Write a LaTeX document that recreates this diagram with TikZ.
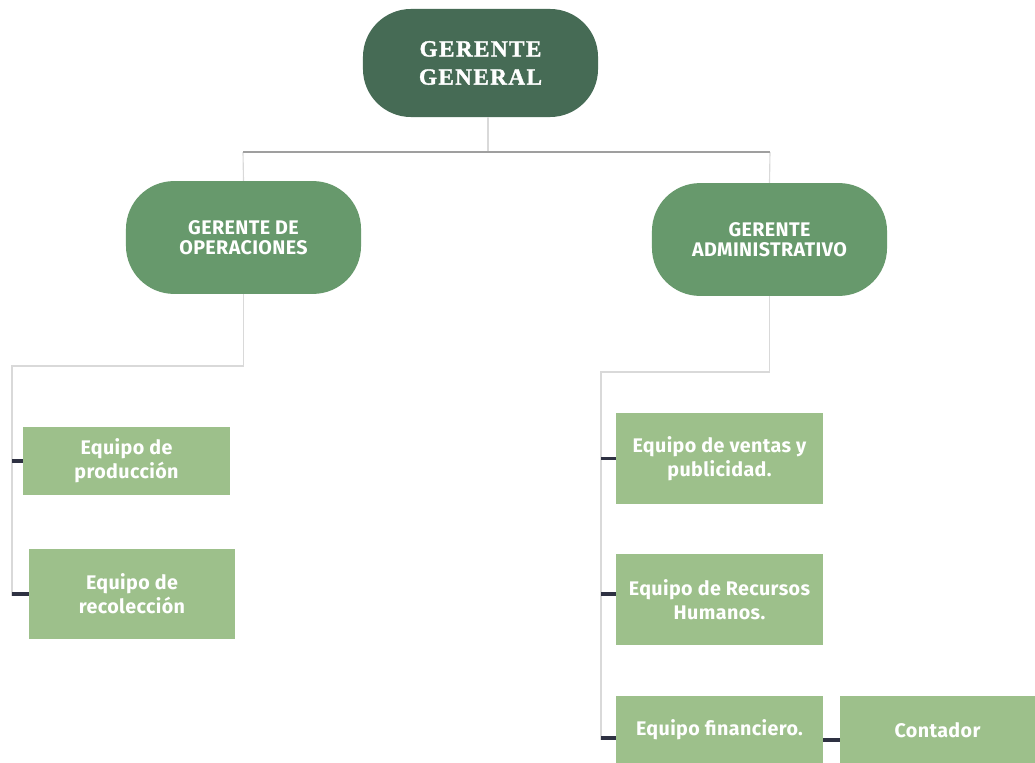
\documentclass[tikz,border=0pt]{standalone}
\usepackage{fontspec}
\setsansfont{Fira Sans}[LetterSpace=2]
\newfontfamily\titlefont{Liberation Serif}[LetterSpace=6, FakeBold=1.5]
\usetikzlibrary{positioning}
\definecolor{darkgreen}{HTML}{466B55}
\definecolor{midgreen}{HTML}{67996C}
\definecolor{lightgreen}{HTML}{9DC08B}
\definecolor{tickcol}{HTML}{2E3142}
\tikzset{
	boss/.style={fill=darkgreen, rounded corners=1.2cm, minimum width=5.875cm, minimum height=2.7cm, text=white, align=center, font=\titlefont\bfseries\fontsize{16.5}{20}\selectfont},
	manager/.style={fill=midgreen, rounded corners=1.2cm, minimum width=5.875cm, minimum height=2.82cm, text=white, align=center, font=\sffamily\bfseries\fontsize{14}{14.5}\selectfont},
	team/.style={fill=lightgreen, minimum width=5.175cm, minimum height=2.27cm, text=white, align=center, font=\sffamily\bfseries\fontsize{14}{17}\selectfont},
	bus/.style={draw=gray!75, line width=1.3pt},
	feed/.style={draw=gray!30, line width=0.8pt},
	branchtick/.style={draw=tickcol, line width=2.2pt},
}
\begin{document}
\begin{tikzpicture}[x=0.025cm, y=-0.025cm]
	\clip (0,0) rectangle (1035,763);
	\fill[white] (0,0) rectangle (1035,763);
	%
	\node[boss] (gg) at (480.5,63) {GERENTE\\GENERAL};
	\node[manager] (ops) at (243.5,237.5) {GERENTE DE\\OPERACIONES};
	\node[manager] (adm) at (769.5,239.5) {GERENTE\\ADMINISTRATIVO};
	
	% operaciones
	\node[team, minimum height=1.7cm] (prod) at (126.5,461) {Equipo de\\producción};
	\node[team, minimum width=5.15cm, minimum height=2.25cm] (recol) at (132,594) {Equipo de\\recolección};
	% administracion
	\node[team] (ventas) at (719.5,458.5) {Equipo de ventas y\\publicidad.};
	\node[team] (rh) at (719.5,599.5) {Equipo de Recursos\\Humanos.};
	\node[team, minimum height=1.7cm] (fin) at (719.5,730) {Equipo financiero.};
	\node[team, minimum width=4.875cm, minimum height=1.7cm] (cont) at (937.5,730) {Contador};
	
	% bus
	\coordinate (busL) at (243,152);
	\coordinate (busR) at (770,152);
	\draw[feed] (gg.south -| 488,0) -- (488,152);
	\draw[feed] (busL) -- (ops.north);
	\draw[feed] (busR) -- (adm.north);
	\draw[bus] (busL) -- (busR);
	
	% left bracket
	\coordinate (opsbend) at (12,366);
	\coordinate (opsend) at (12,596);
	\draw[feed] (ops.south) |- (opsbend) -- (opsend);
	\draw[branchtick] (opsend |- prod.west) -- (prod.west);
	\draw[branchtick] (opsend |- recol.west) -- (recol.west);
	
	% right bracket
	\coordinate (admbend) at (601,372);
	\coordinate (admend) at (601,740);
	\draw[feed] (adm.south) |- (admbend) -- (admend);
	\draw[branchtick] (admend |- ventas.west) -- (ventas.west);
	\draw[branchtick] (601,594) -- (rh.west |- 0,594);
	\draw[branchtick] (601,738) -- (fin.west |- 0,738);
	\draw[branchtick] (fin.east |- 0,740) -- (cont.west |- 0,740);
\end{tikzpicture}
\end{document}
